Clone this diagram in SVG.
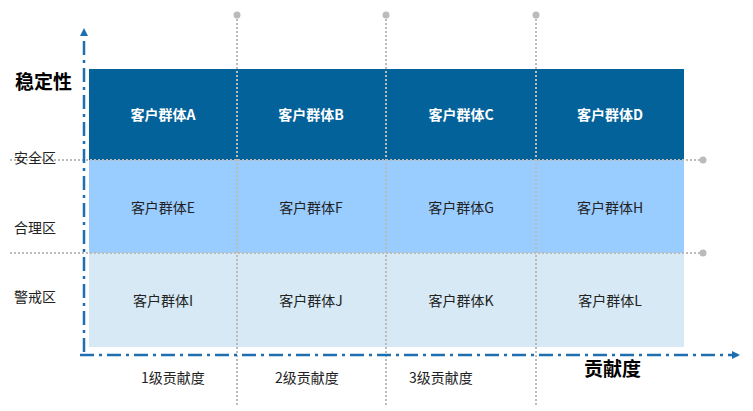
<svg xmlns="http://www.w3.org/2000/svg" width="753" height="411" viewBox="0 0 753 411">
<style>
text{font-family:"Microsoft YaHei","Noto Sans CJK SC",sans-serif;font-size:14px;fill:#222}
.c{text-anchor:middle}
.w{fill:#fff;font-weight:bold}
.b{font-weight:bold;font-size:19px;fill:#000}
.grid{stroke:#bbb;stroke-width:2;stroke-dasharray:2 2;fill:none}
.ax{stroke:#1f6fb0;stroke-width:2.5;stroke-dasharray:14 5 3 5;fill:none}
</style>
<defs><marker id="ar" markerWidth="8" markerHeight="8" refX="6" refY="4" orient="auto" markerUnits="userSpaceOnUse"><path d="M0,0L8,4L0,8z" fill="#1f6fb0"/></marker></defs>
<rect x="89" y="69" width="595" height="91" fill="#04629A"/>
<rect x="89" y="160" width="595" height="93" fill="#99CCFF"/>
<rect x="89" y="253" width="595" height="94" fill="#D6E9F5"/>
<g id="grid">
<path class="grid" d="M237,15V405M386,15V405M536,15V405M10,160H703M10,253H703"/>
<g fill="#bbb"><circle cx="237" cy="15" r="3.5"/><circle cx="386" cy="15" r="3.5"/><circle cx="536" cy="15" r="3.5"/><circle cx="703" cy="160" r="3.5"/><circle cx="703" cy="253" r="3.5"/></g>
</g>
<g id="axes">
<path class="ax" d="M84,352V30" marker-end="url(#ar)"/>
<path class="ax" d="M80,355H738" marker-end="url(#ar)"/>
</g>
<g id="nA"><text class="c w" x="163" y="120">客户群体A</text></g>
<g id="nB"><text class="c w" x="311" y="120">客户群体B</text></g>
<g id="nC"><text class="c w" x="461" y="120">客户群体C</text></g>
<g id="nD"><text class="c w" x="610" y="120">客户群体D</text></g>
<g id="nE"><text class="c" x="163" y="213">客户群体E</text></g>
<g id="nF"><text class="c" x="311" y="213">客户群体F</text></g>
<g id="nG"><text class="c" x="461" y="213">客户群体G</text></g>
<g id="nH"><text class="c" x="610" y="213">客户群体H</text></g>
<g id="nI"><text class="c" x="163" y="306">客户群体I</text></g>
<g id="nJ"><text class="c" x="311" y="306">客户群体J</text></g>
<g id="nK"><text class="c" x="461" y="306">客户群体K</text></g>
<g id="nL"><text class="c" x="610" y="306">客户群体L</text></g>
<text class="b" x="15" y="89">稳定性</text>
<text x="14" y="163">安全区</text>
<text x="14" y="233">合理区</text>
<text x="14" y="302">警戒区</text>
<text x="141" y="383">1级贡献度</text>
<text x="275" y="383">2级贡献度</text>
<text x="409" y="383">3级贡献度</text>
<text class="b" x="584" y="376">贡献度</text>
</svg>
